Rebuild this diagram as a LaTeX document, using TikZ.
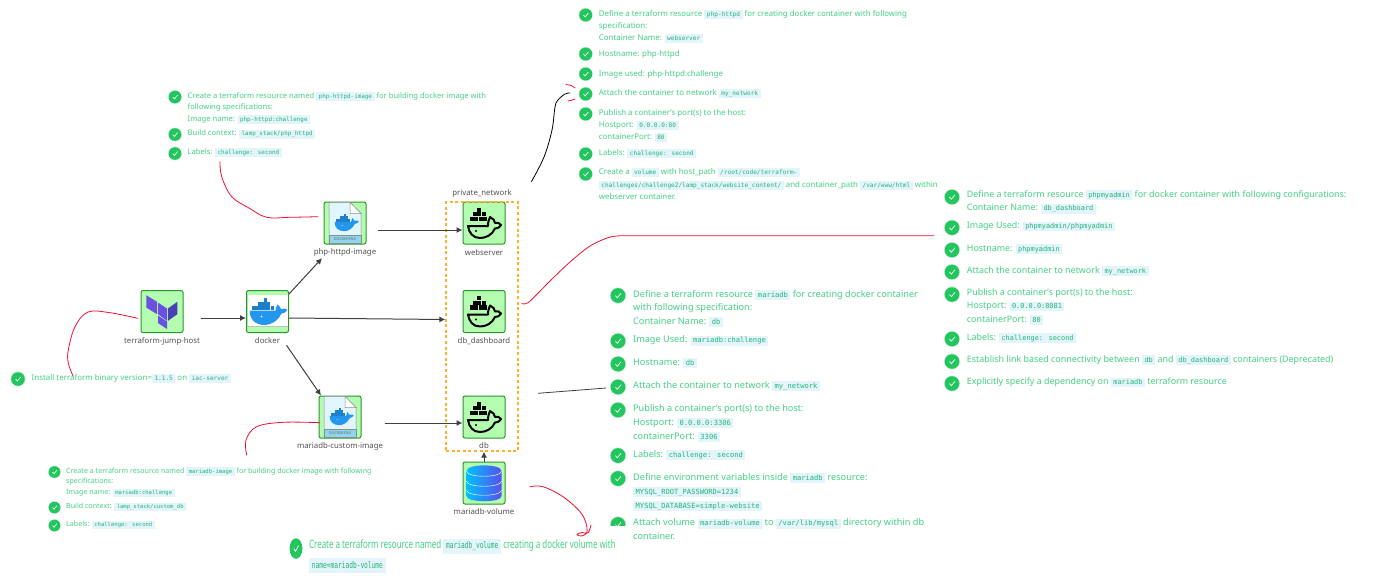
\documentclass[tikz,border=0pt]{standalone}
\usepackage{fontspec}
\setmainfont{Noto Sans}
\newfontfamily\chipf{DejaVu Sans Mono}
\usetikzlibrary{arrows.meta}
\definecolor{txtgreen}{HTML}{45D085}
\definecolor{chipbg}{HTML}{E3F4FC}
\definecolor{chipfg}{HTML}{22B573}
\definecolor{chkgreen}{HTML}{22C55E}
\definecolor{boxfill}{HTML}{B4FDB0}
\definecolor{boxline}{HTML}{2A962A}
\definecolor{inkred}{HTML}{F01030}
\definecolor{dockblue}{HTML}{2396ED}
\definecolor{tfa}{HTML}{6A50E0}
\definecolor{tfb}{HTML}{4A3FB5}
\def\bfont{}\def\cfont{}\def\chippad{1.5pt}
\newcommand\setblock[2]{\def\bfont{\fontsize{#1}{#1}\selectfont}\def\cfont{\chipf\fontsize{#2}{#2}\selectfont}}
\newcommand\cc[1]{{\setlength\fboxsep{\chippad}\colorbox{chipbg}{\kern1pt\color{chipfg}\cfont\vphantom{Ag}#1\kern1pt}}}
\newcommand\tl[3]{\node[tline] (#1) at (#2) {\bfont #3};}
\newcommand\chk[3]{\begin{scope}[shift={(#1,#2)},scale=#3]
  \fill[chkgreen!25] (0,0) circle [radius=1.1];
  \fill[chkgreen] (0,0) circle [radius=1];
  \draw[white,line width=.7pt] (-.35,.02) -- (-.08,.3) -- (.4,-.3);
\end{scope}}
\tikzset{
  tline/.style={anchor=base west,inner sep=0pt,yshift=-3pt,text=txtgreen},
  iconbox/.style={draw=boxline,fill=boxfill,line width=1pt,rounded corners=2pt,minimum width=42pt,minimum height=42pt,inner sep=0pt},
  lbl/.style={text=black!68,font=\fontsize{7.8}{9}\selectfont,inner sep=0pt},
  flow/.style={draw=black!75,line width=1pt,-{Latex[length=6pt,width=6pt]}},
  inkr/.style={draw=inkred,line width=.8pt,line cap=round,line join=round},
  inkk/.style={draw=black,line width=.8pt,line cap=round,line join=round},
  pics/whaleblack/.style={code={
    \foreach \x/\y in {-7/-15.5, -11.5/-10.9,-7/-10.9,-2.5/-10.9, -14.5/-6.2,-10/-6.2,-5.5/-6.2,-1/-6.2}
      \fill[black] (\x,\y) rectangle ++(4.1,4.3);
    \draw[black,line width=2pt,line join=round,line cap=round]
      (-16,3) -- (4,3) .. controls (4,-1) and (5,-4) .. (6,-6)
      .. controls (9,-5) and (11,-2) .. (11,0) .. controls (13,-1) and (16,0) .. (17,2)
      .. controls (15,5) and (13,5.5) .. (11,5.5) .. controls (8,12) and (2,15) .. (-4,15)
      .. controls (-11,15) and (-15,10) .. (-16,3) -- cycle;
    \fill[black] (-8,8) circle [radius=1.1];
  }},
  pics/whaleblue/.style={code={
    \fill[dockblue] (-17.7,-1) -- (8,-1) .. controls (8,-3) and (9,-5) .. (10,-7)
      .. controls (11.5,-6) and (13,-4) .. (13.5,-2.5) .. controls (16,-3.5) and (19,-3) .. (20,-1.5)
      .. controls (18,1) and (16,2) .. (14,2) .. controls (10,10) and (3,13.5) .. (-3,13.5)
      .. controls (-12,13.5) and (-18,8) .. (-17.7,-1) -- cycle;
    \foreach \x/\y in {-3.4/-13.6, -9.6/-9.5,-6.3/-9.5,-3.4/-9.5,-.2/-9.5, -16/-5.3,-12.8/-5.3,-9.6/-5.3,-6.3/-5.3,-3.4/-5.3,-.2/-5.3,3/-5.3}
      \fill[dockblue!85!black] (\x,\y) rectangle ++(3,3.8);
    \fill[white] (-6,5) circle [radius=.8];
  }},
  pics/dockerfile/.style={code={
    \fill[draw=black!45,line width=.5pt,fill=cyan!12] (-16,-20.7) -- (5,-20.7) -- (16,-9.5) -- (16,20) -- (-16,20) -- cycle;
    \fill[draw=black!45,line width=.5pt,fill=white] (5,-20.7) -- (5,-9.5) -- (16,-9.5) -- cycle;
    \fill[fill={rgb,255:red,142;green,214;blue,238},draw=black!45,line width=.4pt] (-16,12) rectangle (16,20);
    \node[inner sep=0pt,text=black!60,font=\fontsize{3.8}{3.8}\selectfont] (-cap) at (0,16) {DOCKERFILE};
    \begin{scope}[shift={(1,-.5)},scale=.64]\pic[transform shape] {whaleblue};\end{scope}
  }},
  pics/tflogo/.style={code={
    \fill[tfa] (-15.7,-16.3) -- (-5,-9.7) -- (-5,2.7) -- (-15.7,-4) -- cycle;
    \fill[tfa] (-4,-9) -- (5,-3) -- (5,9.3) -- (-4,2.7) -- cycle;
    \fill[tfb] (6,-3) -- (15.3,-9.7) -- (15.3,2.7) -- (6,9.3) -- cycle;
    \fill[tfa] (-4,4) -- (5,10) -- (5,17.5) -- (-4,11.5) -- cycle;
  }},
  pics/dbcyl/.style={code={
    \shade[left color={rgb,255:red,0;green,192;blue,255},right color={rgb,255:red,88;green,80;blue,240}] (-17.5,-12) -- (-17.5,13)
      .. controls (-17.5,20) and (17.5,20) .. (17.5,13) -- (17.5,-12)
      .. controls (17.5,-19.5) and (-17.5,-19.5) .. (-17.5,-12) -- cycle;
    \foreach \y in {-12,-2,7}
      \draw[white,line width=.45pt] (-17.5,\y) .. controls (-17.5,\y+7) and (17.5,\y+7) .. (17.5,\y);
  }},
}
\begin{document}
\begin{tikzpicture}[x=1pt,y=-1pt]
\useasboundingbox (0,0) rectangle (1394,584);
\fill[white] (0,0) rectangle (1394,584);

% icon boxes
\node[iconbox] (tfhost) at (162,311.5) {};
\node[iconbox] (docker) at (267.5,311.5) {};
\node[iconbox] (phpimg) at (345,223) {};
\node[iconbox] (mariaimg) at (340,417) {};
\node[iconbox] (webserver) at (484,223) {};
\node[iconbox] (dbdash) at (484,311.5) {};
\node[iconbox] (db) at (484,417) {};
\node[iconbox] (volume) at (484,483) {};
\node[draw={rgb,255:red,255;green,176;blue,40},line width=1.3pt,dash pattern=on 3pt off 2.6pt,minimum width=72pt,minimum height=249pt,inner sep=0pt] (privnet) at (482,326.5) {};

\pic at (tfhost) {tflogo};
\fill[white] (247.5,294.5) rectangle (287.5,326);
\fill[black!25] (247.5,325.5) rectangle (287.5,326.3);
\pic at (docker) {whaleblue};
\pic (phpicon) at (phpimg) {dockerfile};
\pic (mariaicon) at (mariaimg) {dockerfile};
\pic at (webserver) {whaleblack};
\pic at (dbdash) {whaleblack};
\pic at (db) {whaleblack};
\pic at (volume) {dbcyl};

% labels
\node[lbl] (ltf) at (162,341) {terraform-jump-host};
\node[lbl] (ldocker) at (267.5,341) {docker};
\node[lbl] (lphp) at (345,252.5) {php-httpd-image};
\node[lbl] (lmaria) at (340,446) {mariadb-custom-image};
\node[lbl] (lpriv) at (482,193) {private\_network};
\node[lbl] (lweb) at (484,252.5) {webserver};
\node[lbl] (ldash) at (484,341) {db\_dashboard};
\node[lbl] (ldb) at (484,446) {db};
\node[lbl] (lvol) at (484,512) {mariadb-volume};

% connectors
\draw[flow] ([shift={(17,6.5)}]tfhost.east) -- ([shift={(0,6.5)}]docker.west);
\draw[flow] ([shift={(0,-17.5)}]docker.east) -- ([shift={(-23,13.7)}]phpimg.south);
\draw[flow] ([shift={(0,6.5)}]docker.east) -- ([shift={(0,-7)}]privnet.west);
\draw[flow] ([shift={(19,1)}]ldocker.south) -- ([shift={(-19,0)}]mariaimg.north);
\draw[flow] ([shift={(11,7)}]phpimg.east) -- ([shift={(0,7)}]webserver.west);
\draw[flow] ([shift={(23,6)}]mariaimg.east) -- ([shift={(0,6)}]db.west);
\draw[flow] (volume.north) -- (volume.north |- privnet.south);

% hand-drawn ink
\draw[inkr] plot[smooth,tension=.6] coordinates {(220,161.7) (221.7,176.7) (231.7,196.7) (249,208) (266.7,217.3) (290,217.3) (318,216.7)};
\draw[inkr] plot[smooth,tension=.6] coordinates {(137.7,318.3) (110,312.7) (88,312) (75,326.7) (68.3,350) (68.3,363) (73,376)};
\draw[inkr] plot[smooth,tension=.6] coordinates {(320,422.7) (283,422.3) (256.7,426.7) (246,440) (246.7,455)};
\draw[inkr] plot[smooth,tension=.5] coordinates {(522,303.5) (529,302) (550,281) (570,262) (590,246) (610,237) (625,235.7)} -- (934,235.7);
\draw[inkr] plot[smooth,tension=.6] coordinates {(530,486.7) (543,486.7) (563,496.7) (580,511.7) (586,523) (586.7,533) (581,536) (577,534.5) (582,532.5) (588,533) (591,525)};
\draw[inkr] (566,84.5) .. controls (569,84.5) and (572,85.5) .. (575,88);
\draw[inkr] (568,101) .. controls (571,100.5) and (573,100) .. (575,99);
\draw[inkk] plot[smooth,tension=.6] coordinates {(531.5,181.5) (544,157) (552,130) (555,107) (558,100) (565,94) (570,93)};
\draw[line width=.8pt,draw=black!75] (538,393.3) -- (606,388);

% block: php-httpd-image
\setblock{7.6}{5.9}
\chk{175}{97}{6.3}\chk{175}{134.5}{6.3}\chk{175}{153.5}{6.3}
\tl{a1}{187.5,95.3}{Create a terraform resource named \cc{php-httpd-image} for building docker image with}
\tl{a2}{187.5,106}{following specifications:}
\tl{a3}{187.5,118}{Image name: \cc{php-httpd:challenge}}
\tl{a4}{187.5,132.7}{Build context: \cc{lamp\_stack/php\_httpd}}
\tl{a5}{187.5,151.5}{Labels: \cc{challenge: second}}

% block: webserver
\setblock{7.9}{6.1}
\chk{585.7}{15}{6.5}\chk{585.7}{54}{6.5}\chk{585.7}{74}{6.5}\chk{585.7}{94}{6.5}\chk{585.7}{114}{6.5}\chk{585.7}{154}{6.5}\chk{585.7}{174}{6.5}
\tl{b1}{598.7,13}{Define a terraform resource \cc{php-httpd} for creating docker container with following}
\tl{b2}{598.7,25}{specification:}
\tl{b3}{598.7,37}{Container Name: \cc{webserver}}
\tl{b4}{598.7,53}{Hostname: php-httpd}
\tl{b5}{598.7,73}{Image used: php-httpd:challenge}
\tl{b6}{598.7,92.5}{Attach the container to network \cc{my\_network}}
\tl{b7}{598.7,112}{Publish a container's port(s) to the host:}
\tl{b8}{598.7,124}{Hostport: \cc{0.0.0.0:80}}
\tl{b9}{598.7,136}{containerPort: \cc{80}}
\tl{b10}{598.7,152}{Labels: \cc{challenge: second}}
\tl{b11}{598.7,171.5}{Create a \cc{volume} with host\_path \cc{/root/code/terraform-}}
\tl{b12}{598.7,184}{\cc{challenges/challenge2/lamp\_stack/website\_content/} and container\_path \cc{/var/www/html} within}
\tl{b13}{598.7,196}{webserver container.}

% block: phpmyadmin
\setblock{8.9}{6.9}
\chk{952}{197}{7.3}\chk{952}{227.7}{7.3}\chk{952}{250}{7.3}\chk{952}{272}{7.3}\chk{952}{294.5}{7.3}\chk{952}{339}{7.3}\chk{952}{361.5}{7.3}\chk{952}{383.5}{7.3}
\tl{c1}{966.7,194}{Define a terraform resource \cc{phpmyadmin} for docker container with following configurations:}
\tl{c2}{966.7,207.5}{Container Name: \cc{db\_dashboard}}
\tl{c3}{966.7,225.5}{Image Used: \cc{phpmyadmin/phpmyadmin}}
\tl{c4}{966.7,248}{Hostname: \cc{phpmyadmin}}
\tl{c5}{966.7,270}{Attach the container to network \cc{my\_network}}
\tl{c6}{966.7,292}{Publish a container's port(s) to the host:}
\tl{c7}{966.7,305.5}{Hostport: \cc{0.0.0.0:8081}}
\tl{c8}{966.7,319}{containerPort: \cc{80}}
\tl{c9}{966.7,337}{Labels: \cc{challenge: second}}
\tl{c10}{966.7,359}{Establish link based connectivity between \cc{db} and \cc{db\_dashboard} containers (Deprecated)}
\tl{c11}{966.7,381.5}{Explicitly specify a dependency on \cc{mariadb} terraform resource}

% block: mariadb
\setblock{9.15}{7.1}
\chk{618}{295.5}{7.4}\chk{618}{341}{7.4}\chk{618}{364}{7.4}\chk{618}{387}{7.4}\chk{618}{410}{7.4}\chk{618}{455.5}{7.4}\chk{618}{478.5}{7.4}
\begin{scope}\clip (605,510) rectangle (632,525);\chk{618}{524.5}{7.4}\end{scope}
\tl{d1}{633,294}{Define a terraform resource \cc{mariadb} for creating docker container}
\tl{d2}{633,307.5}{with following specification:}
\tl{d3}{633,321}{Container Name: \cc{db}}
\tl{d4}{633,339.5}{Image Used: \cc{mariadb:challenge}}
\tl{d5}{633,362}{Hostname: \cc{db}}
\tl{d6}{633,385}{Attach the container to network \cc{my\_network}}
\tl{d7}{633,408}{Publish a container's port(s) to the host:}
\tl{d8}{633,422}{Hostport: \cc{0.0.0.0:3306}}
\tl{d9}{633,436}{containerPort: \cc{3306}}
\tl{d10}{633,454}{Labels: \cc{challenge: second}}
\tl{d11}{633,477}{Define environment variables inside \cc{mariadb} resource:}
\tl{d12}{633,491}{\cc{MYSQL\_ROOT\_PASSWORD=1234}}
\tl{d13}{633,505}{\cc{MYSQL\_DATABASE=simple-website}}
\tl{d14}{633,522.5}{Attach volume \cc{mariadb-volume} to \cc{/var/lib/mysql} directory within db}
\tl{d15}{633,536}{container.}

% block: terraform install
\setblock{7.9}{6.1}
\chk{18}{379}{6.8}
\tl{e1}{31.5,377}{Install terraform binary version=\cc{1.1.5} on \cc{iac-server}}

% block: mariadb image
\setblock{7.1}{5.55}
\chk{54.5}{472}{5.8}\chk{54.5}{507.5}{5.8}\chk{54.5}{525.5}{5.8}
\tl{f1}{66,470}{Create a terraform resource named \cc{mariadb-image} for building docker image with following}
\tl{f2}{66,480.5}{specifications:}
\tl{f3}{66,491.5}{Image name: \cc{mariadb:challenge}}
\tl{f4}{66,505.5}{Build context: \cc{lamp\_stack/custom\_db}}
\tl{f5}{66,523.5}{Labels: \cc{challenge: second}}

% block: volume
\setblock{11.5}{9}
\def\chippad{3pt}
\begin{scope}[shift={(296,548.5)},yscale=1.6]
  \fill[chkgreen] (0,0) circle [radius=6.4];
  \draw[white,line width=.7pt] (-2.2,.1) -- (-.5,1.8) -- (2.6,-1.8);
\end{scope}
\node[tline,xscale=.69,transform shape,yshift=-1pt] (g1) at (309,544.5) {\bfont Create a terraform resource named \cc{mariadb\_volume} creating a docker volume with};
\node[tline,xscale=.69,transform shape,yshift=-1pt] (g2) at (309,564) {\bfont \cc{name=mariadb-volume}};
\end{tikzpicture}
\end{document}
